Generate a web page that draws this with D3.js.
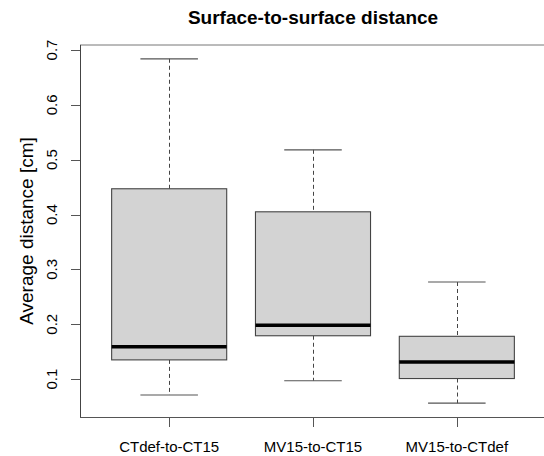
<!DOCTYPE html>
<html>
<head>
<meta charset="utf-8">
<title>Surface-to-surface distance</title>
<script src="https://cdn.jsdelivr.net/npm/d3@7"></script>
<style>
  body { margin: 0; background: #fff; }
  text { font-family: "Liberation Sans", Arial, sans-serif; fill: #000; }
</style>
</head>
<body>
<svg id="chart"></svg>
<script>
// box stats
var categories = ["CTdef-to-CT15", "MV15-to-CT15", "MV15-to-CTdef"];
var whiskerLow  = [0.071, 0.097, 0.056];
var q1          = [0.135, 0.179, 0.101];
var medians     = [0.159, 0.198, 0.131];
var q3          = [0.447, 0.405, 0.178];
var whiskerHigh = [0.684, 0.518, 0.277];
var yTicks = [0.1, 0.2, 0.3, 0.4, 0.5, 0.6, 0.7];

var width = 544, height = 456;
var plot = {left: 80, right: 546, top: 45, bottom: 417};

var svg = d3.select("#chart")
    .attr("width", width)
    .attr("height", height);

// R style limits: data range padded by 4% each side
var lo = d3.min(whiskerLow), hi = d3.max(whiskerHigh);
var pad = (hi - lo) * 0.04;
var y = d3.scaleLinear()
    .domain([lo - pad, hi + pad])
    .range([plot.bottom, plot.top]);

var n = categories.length;
var xPad = n * 0.04;
var x = d3.scaleLinear()
    .domain([0.5 - xPad, n + 0.5 + xPad])
    .range([plot.left, plot.right]);
var boxW = (x(2) - x(1)) * 0.8;

var data = categories.map(function(c, i) {
  return {name: c, pos: i + 1, lo: whiskerLow[i], q1: q1[i], med: medians[i], q3: q3[i], hi: whiskerHigh[i]};
});

var g = svg.append("g");

// whiskers (dashed)
g.selectAll(".whisk-up").data(data).enter().append("line")
    .attr("x1", function(d) { return Math.round(x(d.pos)) + 0.5; })
    .attr("x2", function(d) { return Math.round(x(d.pos)) + 0.5; })
    .attr("y1", function(d) { return y(d.hi); })
    .attr("y2", function(d) { return y(d.q3); })
    .attr("stroke", "#444").attr("stroke-dasharray", "4,3");
g.selectAll(".whisk-down").data(data).enter().append("line")
    .attr("x1", function(d) { return Math.round(x(d.pos)) + 0.5; })
    .attr("x2", function(d) { return Math.round(x(d.pos)) + 0.5; })
    .attr("y1", function(d) { return y(d.q1); })
    .attr("y2", function(d) { return y(d.lo); })
    .attr("stroke", "#444").attr("stroke-dasharray", "4,3");

// caps
["hi", "lo"].forEach(function(k) {
  g.selectAll(".cap-" + k).data(data).enter().append("line")
      .attr("x1", function(d) { return x(d.pos) - boxW / 4; })
      .attr("x2", function(d) { return x(d.pos) + boxW / 4; })
      .attr("y1", function(d) { return y(d[k]); })
      .attr("y2", function(d) { return y(d[k]); })
      .attr("stroke", "#555").attr("stroke-width", 1.2);
});

// boxes
g.selectAll(".box").data(data).enter().append("rect")
    .attr("x", function(d) { return x(d.pos) - boxW / 2; })
    .attr("y", function(d) { return y(d.q3); })
    .attr("width", boxW)
    .attr("height", function(d) { return y(d.q1) - y(d.q3); })
    .attr("fill", "#d3d3d3")
    .attr("stroke", "#444").attr("stroke-width", 1.1);

// medians
g.selectAll(".med").data(data).enter().append("line")
    .attr("x1", function(d) { return x(d.pos) - boxW / 2; })
    .attr("x2", function(d) { return x(d.pos) + boxW / 2; })
    .attr("y1", function(d) { return y(d.med); })
    .attr("y2", function(d) { return y(d.med); })
    .attr("stroke", "#000").attr("stroke-width", 3.5);

// frame
svg.append("line").attr("x1", plot.left).attr("x2", width).attr("y1", plot.top).attr("y2", plot.top)
    .attr("stroke", "#777").attr("stroke-width", 1);
svg.append("line").attr("x1", plot.left + 0.5).attr("x2", plot.left + 0.5).attr("y1", plot.top).attr("y2", plot.bottom + 0.5)
    .attr("stroke", "#444");
svg.append("line").attr("x1", plot.left).attr("x2", width).attr("y1", plot.bottom + 0.5).attr("y2", plot.bottom + 0.5)
    .attr("stroke", "#555");

// y axis ticks + rotated labels
var yAx = svg.append("g");
yAx.selectAll("line").data(yTicks).enter().append("line")
    .attr("x1", plot.left - 9).attr("x2", plot.left)
    .attr("y1", function(d) { return Math.round(y(d)) + 0.5; })
    .attr("y2", function(d) { return Math.round(y(d)) + 0.5; })
    .attr("stroke", "#555");
yAx.selectAll("text").data(yTicks).enter().append("text")
    .attr("transform", function(d) { return "translate(57," + y(d) + ") rotate(-90)"; })
    .attr("text-anchor", "middle")
    .style("font-size", "15px")
    .text(function(d) { return d3.format(".1f")(d); });

// x axis ticks + labels
var xAx = svg.append("g");
xAx.selectAll("line").data(data).enter().append("line")
    .attr("x1", function(d) { return Math.round(x(d.pos)) + 0.5; })
    .attr("x2", function(d) { return Math.round(x(d.pos)) + 0.5; })
    .attr("y1", plot.bottom).attr("y2", plot.bottom + 10)
    .attr("stroke", "#555");
xAx.selectAll("text").data(data).enter().append("text")
    .attr("x", function(d) { return x(d.pos); })
    .attr("y", 452)
    .attr("text-anchor", "middle")
    .style("font-size", "15px")
    .text(function(d) { return d.name; });

// titles
svg.append("text")
    .attr("x", (plot.left + plot.right) / 2)
    .attr("y", 24)
    .attr("text-anchor", "middle")
    .style("font-size", "19px")
    .style("font-weight", "bold")
    .text("Surface-to-surface distance");

svg.append("text")
    .attr("transform", "translate(33," + ((plot.top + plot.bottom) / 2) + ") rotate(-90)")
    .attr("text-anchor", "middle")
    .style("font-size", "19px")
    .text("Average distance [cm]");
</script>
</body>
</html>
